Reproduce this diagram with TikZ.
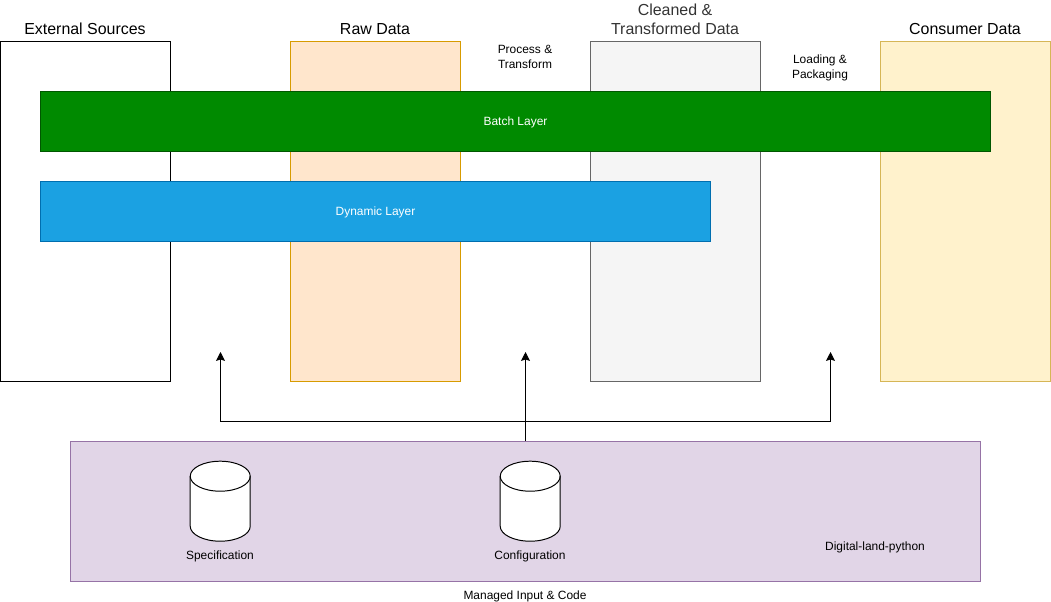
\documentclass[tikz,border=0pt]{standalone}
\usepackage{fontspec}
\setmainfont{Liberation Sans}
\usetikzlibrary{arrows.meta}
\definecolor{rawfill}{HTML}{FFE6CC}
\definecolor{rawline}{HTML}{D79B00}
\definecolor{cleanfill}{HTML}{F5F5F5}
\definecolor{cleanline}{HTML}{666666}
\definecolor{cleantext}{HTML}{333333}
\definecolor{consumerfill}{HTML}{FFF2CC}
\definecolor{consumerline}{HTML}{D6B656}
\definecolor{batchfill}{HTML}{008A00}
\definecolor{batchline}{HTML}{005700}
\definecolor{dynamicfill}{HTML}{1BA1E2}
\definecolor{dynamicline}{HTML}{006EAF}
\definecolor{inputfill}{HTML}{E1D5E7}
\definecolor{inputline}{HTML}{9673A6}
\tikzset{
    stagebox/.style={draw, line width=0.7pt, minimum width=4.25cm, minimum height=8.5cm, inner sep=0pt},
    layerbox/.style={draw, line width=0.7pt, minimum height=1.5cm, inner sep=0pt, text height=7pt, text depth=1.8pt, text=white, font=\fontsize{8.5}{10.6}\selectfont},
    title/.style={align=center, inner sep=0pt, font=\fontsize{11.34}{13.5}\selectfont},
    caption/.style={align=center, inner sep=0pt, font=\fontsize{8.5}{10.6}\selectfont},
    store/.style={minimum width=1.5cm, minimum height=2cm, inner sep=0pt},
    storeline/.style={draw, fill=white, line width=0.7pt},
    flow/.style={-{Stealth[length=6.3pt, width=6.3pt, inset=1pt]}, line width=0.7pt}
}
\begin{document}
\begin{tikzpicture}[x=0.025cm, y=-0.025cm]
    \useasboundingbox (0,0) rectangle (1051,602);
    % stages
    \node[stagebox] (external) at (85.5,211.5) {};
    \node[stagebox, fill=rawfill, draw=rawline] (raw) at (375.5,211.5) {};
    \node[stagebox, fill=cleanfill, draw=cleanline] (cleaned) at (675.5,211.5) {};
    \node[stagebox, fill=consumerfill, draw=consumerline] (consumer) at (965.5,211.5) {};
    \node[title] (externaltitle) at (85,29) {External Sources};
    \node[title] (rawtitle) at (375,29) {Raw Data};
    \node[title, text=cleantext] (cleanedtitle) at (675,19) {Cleaned \&\\Transformed Data};
    \node[title] (consumertitle) at (965,29) {Consumer Data};
    \node[caption] (process) at (525,56.5) {Process \&\\Transform};
    \node[caption] (loading) at (820,68) {Loading \&\\Packaging};
    % layers
    \node[layerbox, fill=batchfill, draw=batchline, minimum width=23.75cm] (batch) at (515.5,121.5) {Batch Layer};
    \node[layerbox, fill=dynamicfill, draw=dynamicline, minimum width=16.75cm] (dynamic) at (375.5,211.5) {Dynamic Layer};
    % managed input
    \node[draw=inputline, fill=inputfill, line width=0.7pt, minimum width=22.75cm, minimum height=3.5cm, inner sep=0pt] (managed) at (525.5,511.5) {};
    \node[store] (spec) at (220.5,501.5) {};
    \node[store] (config) at (530.5,501.5) {};
    \foreach \db in {spec,config} {
        \draw[storeline] (\db.north west) ++(0,15) arc[start angle=180, end angle=360, x radius=30, y radius=15]
            -- ++(0,50) arc[start angle=0, end angle=180, x radius=30, y radius=15] -- cycle;
        \draw[line width=0.7pt] (\db.north west) ++(0,15) arc[start angle=180, end angle=0, x radius=30, y radius=15];
    }
    \node[caption] (speclabel) at (220,556) {Specification};
    \node[caption] (configlabel) at (530,556) {Configuration};
    \node[caption] (python) at (875,547) {Digital-land-python};
    \node[caption] (managedlabel) at (525,596) {Managed Input \& Code};
    % arrows
    \coordinate (branch) at (525.5,421.5);
    \coordinate (spectip) at (220.5,352);
    \coordinate (configtip) at (525.5,352);
    \coordinate (loadtip) at (830.5,352);
    \draw[flow] (managed.north) -- (configtip);
    \draw[flow] (branch) -| (spectip);
    \draw[flow] (branch) -| (loadtip);
\end{tikzpicture}
\end{document}
